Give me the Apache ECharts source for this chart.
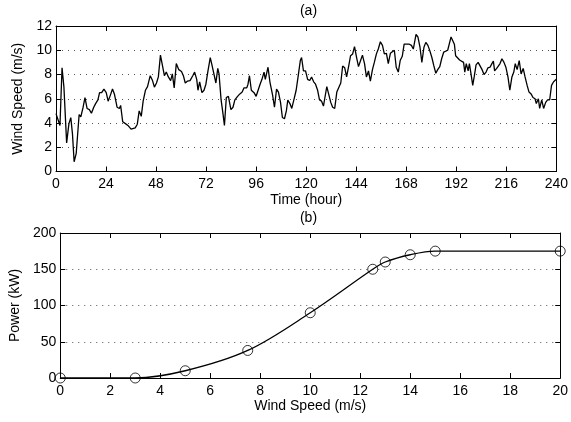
<!DOCTYPE html>
<html><head><meta charset="utf-8">
<script src="https://cdn.jsdelivr.net/npm/echarts@6/dist/echarts.min.js"></script>
<style>html,body{margin:0;padding:0;background:#fff}#c{width:571px;height:422px}</style>
</head><body><div id="c"></div>
<script>
// (a) wind speed time series
const hours = [0,1.9,2.9,3.8,5.1,6.2,7.1,7.9,8.7,9.7,11.1,11.9,13,13.9,14.9,16,17,18.1,19,20.1,20.9,21.9,23,24.1,25,26.1,27.1,28,29.3,30.4,31,32,33.3,34.5,36,36.8,38,39,39.9,40.9,41.8,42.9,43.9,45.2,46.3,47.2,48.2,49.1,50.1,51,52,52.9,53.9,
55,55.8,56.7,57.7,58.9,60.2,61.1,62,63,64.3,65.6,66.5,67.5,68.1,68.9,70,71,71.9,72.9,74,74.8,75.7,76.7,77.6,78.2,79.2,80,80.8,81.7,82.7,83.9,84.9,85.8,87.1,88.2,89.3,90.2,91.5,92.1,92.8,93.7,95,96,96.9,97.9,98.8,99.8,100.4,101.7,102.6,103.9,104.8,105.8,106.7,107.7,108.6,109.6,110.5,
111.2,112.2,113.1,114.1,115.2,116.2,117.2,117.8,118.7,119.7,120.7,121.7,122.6,123.6,124.5,125.5,126.4,127.4,128.3,128.9,129.9,130.8,131.8,132.7,133.7,134.7,135.6,136.6,137.5,138.5,139.4,140.4,141.3,142.3,143.2,144.2,145.1,146.1,147,148,148.9,149.9,150.8,151.8,152.7,153.7,154.6,155.6,156.6,157.5,158.5,159.4,160.4,161.3,162.3,163.2,164.2,165.1,166.1,167,168,
169.5,170.5,171.4,172.7,173.6,174.6,175.5,176.5,177.4,178.4,179.3,180.3,181.2,182.2,183.1,184.1,185,186,186.9,187.9,188.8,189.5,190.1,191.1,191.7,192.6,193.6,194.5,195.5,196.1,196.8,197.7,198.3,199.3,199.9,200.6,201.5,202.5,203.4,204.4,205.3,206.3,207.2,208.2,209.1,209.8,210.4,211.4,212.3,213,213.9,214.9,215.8,216.8,217.7,218.7,219.6,220.3,221.2,222.2,223.1,224.1,225,226,226.9,227.9,228.8,229.8,230.4,231.4,232,233,233.9,234.9,235.8,236.8,237.7,238.7,240];
const windSpeed = [4.77,3.8,8.55,6.96,2.36,3.95,4.44,3.1,0.8,1.5,4.7,4.5,5.3,6.1,5.2,5.1,4.8,5.3,5.6,5.9,6.5,6.5,6.8,6.5,5.8,6.3,6.8,6.4,5.3,5.2,5.45,4.1,3.95,3.8,3.5,3.6,3.6,3.9,5.0,4.55,5.8,6.7,7.0,7.9,7.5,6.96,7.3,7.8,9.6,9.5,7.9,8.2,7.8,
7.5,8.05,6.9,8.9,8.4,8.25,7.9,7.3,7.45,7.5,7.9,8.2,7.6,6.7,7.4,6.5,6.7,7.2,8.3,9.4,8.8,8.9,7.3,8.5,8.05,5.9,4.9,3.8,6.1,6.2,5.1,5.3,5.9,6.2,6.4,6.55,6.9,6.9,7.2,7.9,6.7,6.5,6.2,6.1,7.2,7.6,8.2,7.6,8.6,7.4,6.3,5.3,6.8,6.55,5.7,4.45,4.35,5.0,
5.9,5.6,5.2,5.9,6.7,7.9,9.15,9.4,8.3,8.3,7.6,7.5,7.8,7.4,7.2,6.7,5.9,5.8,5.4,6.0,7.0,6.96,5.7,5.3,5.2,6.55,6.7,7.3,8.7,8.55,7.8,8.7,9.55,9.7,10.3,9.4,8.65,9.15,9.6,8.9,7.8,8.3,7.45,8.4,9.0,9.7,10.1,10.7,10.4,9.7,9.75,8.9,9.75,9.9,10.0,8.6,8.2,9.15,9.5,10.5,10.5,
10.5,10.4,10.1,11.3,11.1,10.25,9.0,10.25,10.65,10.4,9.97,9.4,8.75,8.1,8.4,8.65,9.3,9.85,9.97,10.0,9.97,11.1,11.2,10.5,9.55,9.4,9.2,9.15,9.0,8.2,8.9,8.3,8.9,7.8,7.1,7.8,8.8,9.0,8.9,8.4,8.0,8.2,8.55,8.6,8.9,9.1,8.3,8.5,8.4,8.9,9.3,9.0,8.6,7.8,6.7,7.8,8.2,8.9,8.4,9.15,8.05,8.5,7.8,7.1,6.55,6.4,6.1,6.0,5.6,6.0,5.2,5.9,5.2,5.7,5.9,5.9,7.1,7.4,7.6];

// (b) power curve points
const curveWind = [0,3,5,7.5,10,12.5,13,14,15,20];
const curvePower = [0,0,10,38,90,150,160,170,175,175];

const FONT = '"Liberation Sans", Arial, sans-serif';
const FS = 14;
const tickStyle = {show:true, inside:true, length:5, lineStyle:{color:'#000', width:1}};
const lineAxis = {show:true, onZero:false, lineStyle:{color:'#000', width:1}};
const labelStyle = {color:'#000', fontFamily:FONT, fontSize:FS};
const nameStyle = {color:'#000', fontFamily:FONT, fontSize:FS};
const dotted = {show:true, lineStyle:{color:'#555', width:1, type:[1,5]}};

function xAx(grid, min, max, interval, pos, name, gap){
  return {type:'value', gridIndex:grid, min, max, interval, position:pos,
    axisLine:lineAxis, axisTick:tickStyle, splitLine:{show:false},
    axisLabel: pos==='bottom' ? Object.assign({show:true, margin:6}, labelStyle) : {show:false},
    name: name||'', nameLocation:'middle', nameGap:gap||0, nameTextStyle:nameStyle};
}
function yAx(grid, min, max, interval, pos, name, gap){
  return {type:'value', gridIndex:grid, min, max, interval, position:pos,
    axisLine:lineAxis, axisTick:tickStyle,
    splitLine: pos==='left' ? dotted : {show:false},
    axisLabel: pos==='left' ? Object.assign({show:true, margin:4}, labelStyle) : {show:false},
    name: name||'', nameLocation:'middle', nameGap:gap||0, nameTextStyle:nameStyle};
}

const chart = echarts.init(document.getElementById('c'), null, {renderer:'canvas'});
const curveData = curveWind.map((w,i)=>[w, curvePower[i]]);
chart.setOption({
  animation:false,
  backgroundColor:'#fff',
  grid:[
    {left:56, right:10.5, top:26, height:145.5},
    {left:56, right:10.5, top:233, height:145}
  ],
  graphic:[
    {type:'text', x:308.5, y:11, style:{text:'(a)', font:FS+'px '+FONT, fill:'#000', align:'center', verticalAlign:'middle'}},
    {type:'text', x:308.5, y:218, style:{text:'(b)', font:FS+'px '+FONT, fill:'#000', align:'center', verticalAlign:'middle'}}
  ],
  xAxis:[
    xAx(0,0,240,24,'bottom','Time (hour)',22),
    xAx(0,0,240,24,'top'),
    xAx(1,0,20,2,'bottom','Wind Speed (m/s)',21),
    xAx(1,0,20,2,'top')
  ],
  yAxis:[
    yAx(0,0,12,2,'left','Wind Speed (m/s)',21),
    yAx(0,0,12,2,'right'),
    yAx(1,0,200,50,'left','Power (kW)',34),
    yAx(1,0,200,50,'right')
  ],
  series:[
    {type:'line', xAxisIndex:0, yAxisIndex:0, showSymbol:false, symbol:'none',
     data: hours.map((h,i)=>[h, windSpeed[i]]),
     lineStyle:{color:'#000', width:1.3}},
    {type:'line', xAxisIndex:2, yAxisIndex:2, symbol:'none', smooth:0.35,
     data: curveData,
     lineStyle:{color:'#000', width:1.3}},
    {type:'scatter', xAxisIndex:2, yAxisIndex:2, symbol:'circle', symbolSize:10, clip:false, z:5,
     data: curveData,
     itemStyle:{color:'rgba(0,0,0,0)', borderColor:'#000', borderWidth:1}}
  ]
});
</script>
</body></html>
